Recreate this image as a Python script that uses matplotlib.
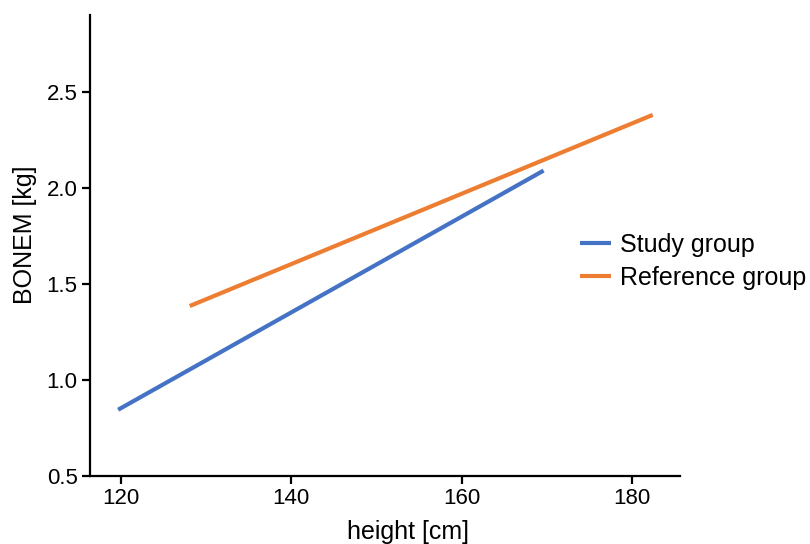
import matplotlib
matplotlib.use("Agg")
import matplotlib.pyplot as plt

plt.rcParams['font.family'] = ['Liberation Sans', 'DejaVu Sans']

# regression lines (height in cm, BONEM in kg)
study_height = [119.7, 169.6]
study_bonem = [0.845, 2.09]
ref_height = [128.1, 182.4]
ref_bonem = [1.385, 2.38]

fig = plt.figure(figsize=(8.1, 5.44), dpi=100)
ax = fig.add_axes([90 / 810, 68 / 544, 590 / 810, 461 / 544])

ax.plot(study_height, study_bonem, color='#4472C4', lw=3, label='Study group',
        solid_capstyle='butt')
ax.plot(ref_height, ref_bonem, color='#ED7D31', lw=3, label='Reference group',
        solid_capstyle='butt')

ax.set_xlim(116.4, 185.6)
ax.set_ylim(0.5, 2.9)
ax.set_xticks([120, 140, 160, 180])
ax.set_yticks([0.5, 1.0, 1.5, 2.0, 2.5])
ax.set_yticklabels(['0.5', '1.0', '1.5', '2.0', '2.5'])

for side in ['top', 'right']:
    ax.spines[side].set_visible(False)
for side in ['left', 'bottom']:
    ax.spines[side].set_linewidth(1.6)
ax.tick_params(width=1.6, length=6, labelsize=16, pad=3)

ax.set_xlabel('height [cm]', fontsize=18)
ax.set_ylabel('BONEM [kg]', fontsize=18)
ax.xaxis.set_label_coords(0.539, -0.095)
ax.yaxis.set_label_coords(-0.09, 0.523)

fig.legend(loc='upper left', bbox_to_anchor=(580 / 810, 1 - 233 / 544),
           frameon=False, fontsize=18, handlelength=1.25, handletextpad=0.35,
           labelspacing=0.35, borderpad=0, borderaxespad=0)

fig.savefig('out.png', dpi=100)
